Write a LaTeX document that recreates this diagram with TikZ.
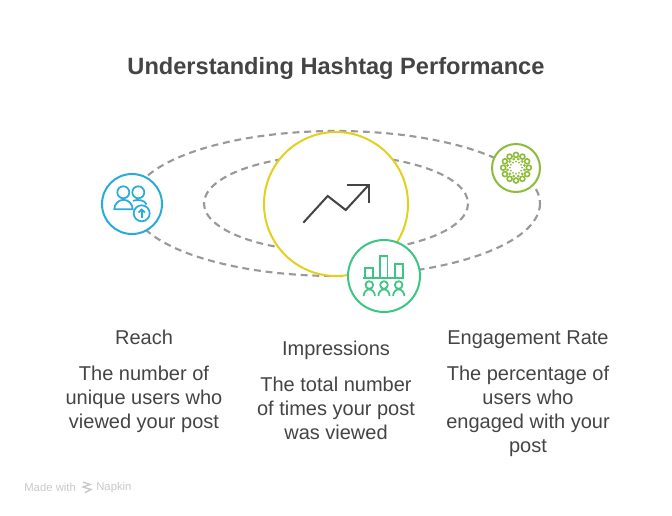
\documentclass[tikz,border=0pt]{standalone}
\usepackage{fontspec}
\setmainfont{Liberation Sans}
\usepackage{xcolor}
\usetikzlibrary{calc}
\definecolor{inktext}{HTML}{444444}
\definecolor{inkdash}{HTML}{999999}
\definecolor{inkblue}{HTML}{29ABDC}
\definecolor{inkyellow}{HTML}{E3CF1E}
\definecolor{inkgreen}{HTML}{3DC583}
\definecolor{inklime}{HTML}{8DBB3A}
\definecolor{inkmark}{HTML}{C8C8C8}
\tikzset{
	orbit/.style = {draw=inkdash, line width=1.6pt, dash pattern=on 5.2pt off 3.6pt},
	ring/.style = {circle, fill=white, line width=1.5pt, inner sep=0pt},
	heading/.style = {text=inktext, font=\fontsize{15}{18}\selectfont, inner sep=0pt, anchor=base},
	body/.style = {text=inktext, font=\fontsize{15}{18}\selectfont, align=center, inner sep=0pt, anchor=north},
}
\begin{document}
\begin{tikzpicture}[x=0.75pt,y=-0.75pt]
	\useasboundingbox (0,0) rectangle (672,515);
	\node[text=inktext, inner sep=0pt, anchor=base, font=\bfseries\fontsize{17.7}{22}\selectfont] (title) at (336,74) {Understanding Hashtag Performance};
	% orbits
	\draw[orbit] (336,203.5) ellipse (204 and 72.5);
	\draw[orbit] (336,203.5) ellipse (132 and 48.5);
	% circles
	\node[ring, draw=inkyellow, minimum size=108pt] (impressions) at (336,204) {};
	\node[ring, draw=inkblue, minimum size=45pt] (reach) at (132,204) {};
	\node[ring, draw=inklime, minimum size=36pt] (engagement) at (516,168) {};
	\node[ring, draw=inkgreen, minimum size=54pt] (audience) at (384,276) {};
	% trend arrow
	\draw[inktext, line width=1.5pt] (303.3,222.7) -- (327.7,196) -- (345.7,210) -- (368.7,185);
	\draw[inktext, line width=1.5pt] (346.7,185) -- (368.7,185) -- (368.7,203.3);
	% users icon
	\begin{scope}[inkblue, line width=1.3pt]
		\draw (123.3,192.3) circle (6);
		\draw (138.3,192.3) circle (6);
		\draw (114.3,209.3) arc (180:360:9.2 and 9.5) -- cycle;
		\draw (133,200.8) .. controls (138,199) and (145,200) .. (146.5,204.5);
		\draw[fill=white] (141.7,213.3) circle (8);
		\draw (141.7,218) -- (141.7,209.5);
		\draw (138.5,212.5) -- (141.7,209.5) -- (144.9,212.5);
	\end{scope}
	% bars and people
	\begin{scope}[inkgreen, line width=1.3pt]
		\draw (362.7,277.7) -- (404,277.7);
		\foreach \x/\y in {365.3/267.7, 380/255.7, 395.3/264.3}
		{
			\draw (\x,277.7) -- (\x,\y) -- ($(\x,\y)+(7.4,0)$) -- ($(\x,277.7)+(7.4,0)$);
		};
		\foreach \x in {369.3, 384, 398.7}
		{
			\draw (\x,285) circle (3.8);
			\draw ($(\x,296)+(-5.6,0)$) arc (180:360:5.6 and 6.6);
		};
	\end{scope}
	% cluster icon
	\begin{scope}[shift={(516,167.7)}, inklime]
		\foreach \a in {0,30,...,330}
		{
			\draw[line width=1.2pt] (\a:12.8) circle (2.5);
			\fill (\a+15:8.8) circle (1.5);
			\fill (\a:6) circle (1);
		};
	\end{scope}
	% texts
	\node[heading] (reachhead) at (144,344.5) {Reach};
	\node[body] (reachtext) at (144,365.5) {The number of\\unique users who\\viewed your post};
	\node[heading] (impressionshead) at (336,355.5) {Impressions};
	\node[body] (impressionstext) at (336,376.5) {The total number\\of times your post\\was viewed};
	\node[heading] (engagementhead) at (528,344.5) {Engagement Rate};
	\node[body] (engagementtext) at (528,365.5) {The percentage of\\users who\\engaged with your\\post};
	% footer
	\node[text=inkmark, inner sep=0pt, anchor=west, font=\fontsize{8.5}{10}\selectfont] (madewith) at (24,487.5) {Made with};
	\node[text=inkmark, inner sep=0pt, anchor=west, font=\fontsize{8.5}{10}\selectfont] (napkin) at (96,487.5) {Napkin};
	\draw[inkmark, line width=1pt] (83,482) -- (90,484.5) -- (83,487) -- (91,489.5) -- (85,492.5);
\end{tikzpicture}
\end{document}
